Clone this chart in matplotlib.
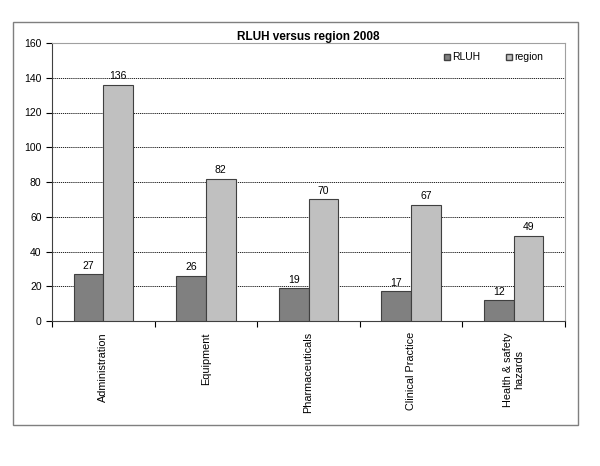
import numpy as np
import matplotlib
matplotlib.use("Agg")
import matplotlib.pyplot as plt
from matplotlib.patches import Rectangle
from matplotlib.lines import Line2D

categories = ["Administration", "Equipment", "Pharmaceuticals",
              "Clinical Practice", "Health & safety\nhazards"]
rluh = [27, 26, 19, 17, 12]
region = [136, 82, 70, 67, 49]
y_ticks = [0, 20, 40, 60, 80, 100, 120, 140, 160]

plt.rcParams["font.family"] = ["Liberation Sans", "DejaVu Sans"]

fig = plt.figure(figsize=(6, 4.66), dpi=100)
# outer chart frame
fig.patches.append(Rectangle((13 / 600, 1 - 425 / 466), 565 / 600, 403 / 466,
                             transform=fig.transFigure, fill=False,
                             edgecolor="#7f7f7f", linewidth=1.0))

ax = fig.add_axes([52 / 600, 1 - 321 / 466, 513 / 600, 278 / 466])

x = np.arange(len(categories))
w = 0.29
b1 = ax.bar(x - w / 2, rluh, w, color="#808080", edgecolor="#404040",
            linewidth=0.8, label="RLUH", zorder=3)
b2 = ax.bar(x + w / 2, region, w, color="#c0c0c0", edgecolor="#404040",
            linewidth=0.8, label="region", zorder=3)

for bars, vals in ((b1, rluh), (b2, region)):
    for r, v in zip(bars, vals):
        ax.text(r.get_x() + r.get_width() / 2, v + 2, str(v),
                ha="center", va="bottom", fontsize=7.5)

ax.set_xlim(-0.5, len(categories) - 0.5)
ax.set_ylim(0, 160)
ax.set_yticks(y_ticks)
ax.tick_params(axis="y", labelsize=7.5, length=4, direction="out", width=0.8)
for t in y_ticks[1:]:
    ax.axhline(t, color="black", linestyle=(0, (1.5, 1)), linewidth=0.6, zorder=1)

ax.set_xticks(x)
ax.set_xticklabels(categories, rotation=90, fontsize=7.8, va="top")
ax.set_xticks(np.arange(-0.5, len(categories)), minor=True)
ax.tick_params(axis="x", which="major", length=0, pad=8)
ax.tick_params(axis="x", which="minor", length=4, width=0.8)

ax.spines["left"].set_color("#404040")
ax.spines["bottom"].set_color("#404040")
ax.spines["top"].set_color("#a0a0a0")
ax.spines["right"].set_color("#a0a0a0")

ax.set_title("RLUH versus region 2008", fontsize=8.5, fontweight="bold",
             family=["Liberation Sans Narrow", "Liberation Sans"], pad=2)

handles = [Line2D([], [], marker="s", linestyle="none", markersize=4,
                  markerfacecolor="#808080", markeredgecolor="#404040"),
           Line2D([], [], marker="s", linestyle="none", markersize=4,
                  markerfacecolor="#c0c0c0", markeredgecolor="#404040")]
ax.legend(handles, ["RLUH", "region"], loc="upper right", ncol=2,
          frameon=False, fontsize=7.5, handletextpad=0.0, columnspacing=2.2,
          handlelength=1.0, bbox_to_anchor=(0.975, 1.0))

fig.savefig("out.png", dpi=100)
